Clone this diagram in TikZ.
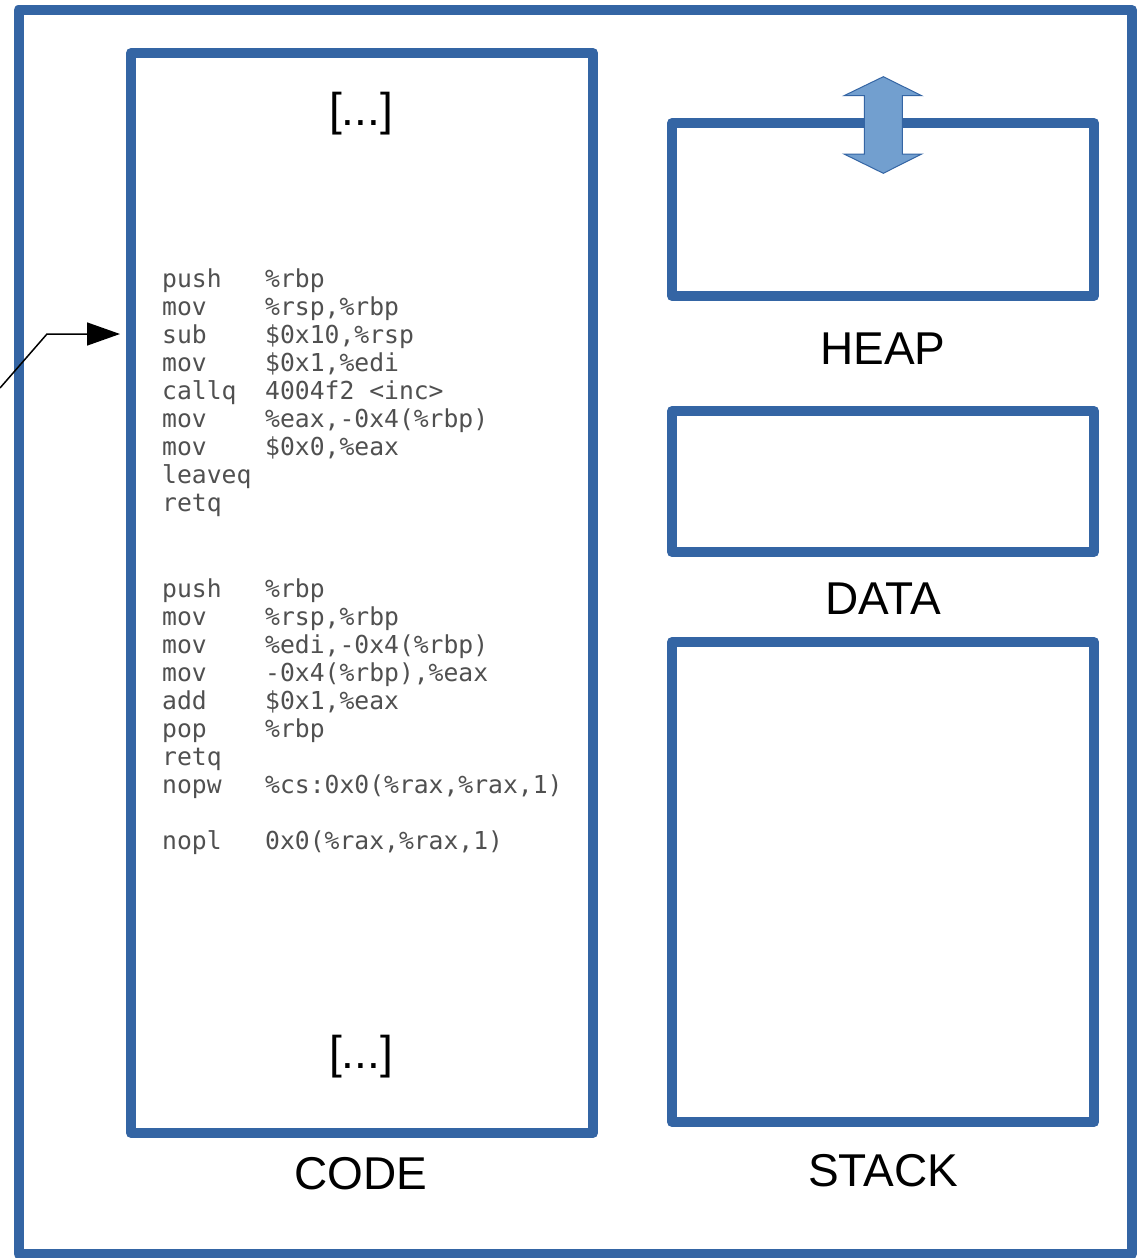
\documentclass[tikz,border=0pt]{standalone}
\usepackage{fontspec}
\setmainfont{Liberation Sans}
\newfontfamily\asmfont{DejaVu Sans Mono}
\usetikzlibrary{arrows.meta}
\definecolor{frameblue}{HTML}{3465A4}
\definecolor{arrowfill}{HTML}{729FCF}
\definecolor{asmgray}{HTML}{505050}
\tikzset{
  segbox/.style={draw=frameblue, line width=10pt, line join=round, rectangle, inner sep=0pt},
  seglabel/.style={anchor=base, inner sep=0pt, font=\fontsize{46pt}{50pt}\selectfont},
  asmtxt/.style={anchor=base west, inner sep=0pt, text=asmgray, font=\asmfont\fontsize{24.7pt}{28pt}\selectfont},
  pointer/.style={line width=1.5pt, -{Triangle[length=33pt, width=23pt]}},
  growarrow/.style={fill=arrowfill, draw=frameblue, line width=1pt, line join=miter}
}
% one disassembly line: opcode column, then operands
\newcommand\asmline[4]{\node[asmtxt] (#1) at (162,#2) {\makebox[103pt][l]{#3}#4};}
\begin{document}
\begin{tikzpicture}[x=1pt, y=-1pt]
\useasboundingbox (0,0) rectangle (1142,1258);
\fill[white] (0,0) rectangle (1142,1258);

% address space and its segments
\node[segbox, minimum width=1113.5pt, minimum height=1244pt] (space) at (575.25,632) {};
\node[segbox, minimum width=462pt, minimum height=1080pt] (code) at (362,593) {};
\node[segbox, minimum width=422pt, minimum height=173pt] (heap) at (883,209.5) {};
\node[segbox, minimum width=422pt, minimum height=141pt] (data) at (883,481.5) {};
\node[segbox, minimum width=422pt, minimum height=480pt] (stack) at (883,882) {};

% segment names
\node[seglabel] (heaplbl) at (883,364) {HEAP};
\node[seglabel] (datalbl) at (883,614) {DATA};
\node[seglabel] (stacklbl) at (883,1186) {STACK};
\node[seglabel] (codelbl) at (361,1189) {CODE};
\node[seglabel] (moretop) at (361,125) {[...]};
\node[seglabel] (morebot) at (361,1068) {[...]};

% main
\asmline{m1}{287}{push}{\%rbp}
\asmline{m2}{315}{mov}{\%rsp,\%rbp}
\asmline{m3}{343}{sub}{\$0x10,\%rsp}
\asmline{m4}{371}{mov}{\$0x1,\%edi}
\asmline{m5}{399}{callq}{4004f2 <inc>}
\asmline{m6}{427}{mov}{\%eax,-0x4(\%rbp)}
\asmline{m7}{455}{mov}{\$0x0,\%eax}
\asmline{m8}{483}{leaveq}{}
\asmline{m9}{511}{retq}{}

% inc
\asmline{n1}{597}{push}{\%rbp}
\asmline{n2}{625}{mov}{\%rsp,\%rbp}
\asmline{n3}{653}{mov}{\%edi,-0x4(\%rbp)}
\asmline{n4}{681}{mov}{-0x4(\%rbp),\%eax}
\asmline{n5}{709}{add}{\$0x1,\%eax}
\asmline{n6}{737}{pop}{\%rbp}
\asmline{n7}{765}{retq}{}
\asmline{n8}{793}{nopw}{\%cs:0x0(\%rax,\%rax,1)}
\asmline{n9}{849}{nopl}{0x0(\%rax,\%rax,1)}

% instruction pointer
\coordinate (ipfrom) at (0,388);
\coordinate (ipbend) at (47,334);
\draw[pointer, shorten >=6pt] (ipfrom) -- (ipbend) -- (code.west |- ipbend);

% heap growth
\draw[growarrow] (883.3,76.7) -- (921.7,95.7) -- (902.3,95.7) -- (902.3,154)
  -- (921.7,154) -- (883.3,173.3) -- (844,154) -- (864.3,154) -- (864.3,95.7)
  -- (844,95.7) -- cycle;
\end{tikzpicture}
\end{document}
